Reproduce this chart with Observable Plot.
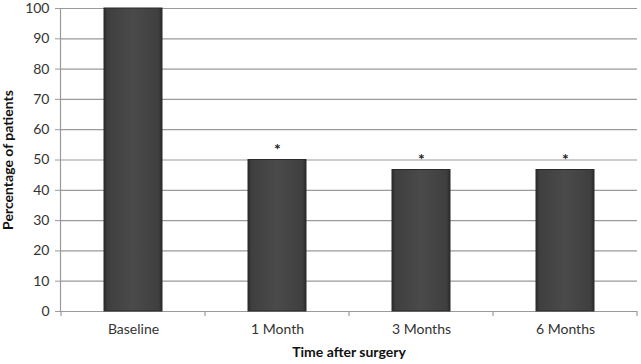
<!DOCTYPE html>
<html>
<head>
<meta charset="utf-8">
<script src="https://cdn.jsdelivr.net/npm/d3@7"></script>
<script src="https://cdn.jsdelivr.net/npm/@observablehq/plot@0.6"></script>
<style>
  html, body { margin: 0; padding: 0; background: #fff; }
  #chart svg { display: block; }
</style>
</head>
<body>
<div id="chart"></div>
<script>
const categories = ["Baseline", "1 Month", "3 Months", "6 Months"];
const values = [100, 50, 46.7, 46.7];
const significant = [false, true, true, true];
const yTicks = [0, 10, 20, 30, 40, 50, 60, 70, 80, 90, 100];

const data = categories.map((c, i) => ({category: c, value: values[i], sig: significant[i]}));

// tick marks at band boundaries
function boundaryTicks(index, scales, values, dimensions) {
  const x = scales.x;
  const step = x.step(), bw = x.bandwidth();
  const y0 = dimensions.height - dimensions.marginBottom;
  const g = d3.create("svg:g").attr("stroke", "#9a9a9a").attr("stroke-width", 1.2);
  const edges = categories.map(c => x(c) - (step - bw) / 2);
  edges.push(x(categories[categories.length - 1]) + bw + (step - bw) / 2);
  for (const e of edges) {
    g.append("line").attr("x1", e).attr("x2", e).attr("y1", y0).attr("y2", y0 + 5);
  }
  return g.node();
}

const chart = Plot.plot({
  width: 641,
  height: 364,
  marginLeft: 60,
  marginRight: 4,
  marginTop: 8,
  marginBottom: 53,
  style: {fontFamily: "Lato, sans-serif", fontSize: "14px", color: "#333", background: "#fff"},
  x: {domain: categories, paddingInner: 0.6, paddingOuter: 0.3, label: null},
  y: {domain: [0, 100], label: null},
  marks: [
    Plot.gridY(yTicks, {stroke: "#9a9a9a", strokeOpacity: 1, strokeWidth: 1.2}),
    Plot.axisY(yTicks, {tickSize: 5, tickPadding: 6, stroke: "#9a9a9a", fontSize: 14, label: null}),
    Plot.axisX({tickSize: 0, tickPadding: 13, fontSize: 14, label: null}),
    Plot.frame({anchor: "left", stroke: "#9a9a9a", strokeWidth: 1.2}),
    Plot.ruleY([0], {stroke: "#9a9a9a", strokeWidth: 1.2}),
    boundaryTicks,
    Plot.barY(data, {x: "category", y: "value", fill: "url(#barGrad)", stroke: "#2a2a2a", strokeWidth: 1}),
    Plot.text(data.filter(d => d.sig), {x: "category", y: "value", text: () => "*", dy: -10, fontSize: 16, fontWeight: "bold", fill: "#222"}),
    Plot.text(["Time after surgery"], {frameAnchor: "bottom", dy: 45, fontWeight: "bold", fontSize: 14, fill: "#111"}),
    Plot.text(["Percentage of patients"], {frameAnchor: "left", textAnchor: "middle", dx: -52, rotate: -90, fontWeight: "bold", fontSize: 14, fill: "#111"})
  ]
});

const defs = d3.select(chart).insert("defs", ":first-child");
const grad = defs.append("linearGradient").attr("id", "barGrad").attr("x1", "0").attr("x2", "1").attr("y1", "0").attr("y2", "0");
grad.append("stop").attr("offset", "0%").attr("stop-color", "#2b2b2b");
grad.append("stop").attr("offset", "6%").attr("stop-color", "#3f3f3f");
grad.append("stop").attr("offset", "50%").attr("stop-color", "#4a4a4a");
grad.append("stop").attr("offset", "94%").attr("stop-color", "#3f3f3f");
grad.append("stop").attr("offset", "100%").attr("stop-color", "#2b2b2b");

document.getElementById("chart").append(chart);
</script>
</body>
</html>
